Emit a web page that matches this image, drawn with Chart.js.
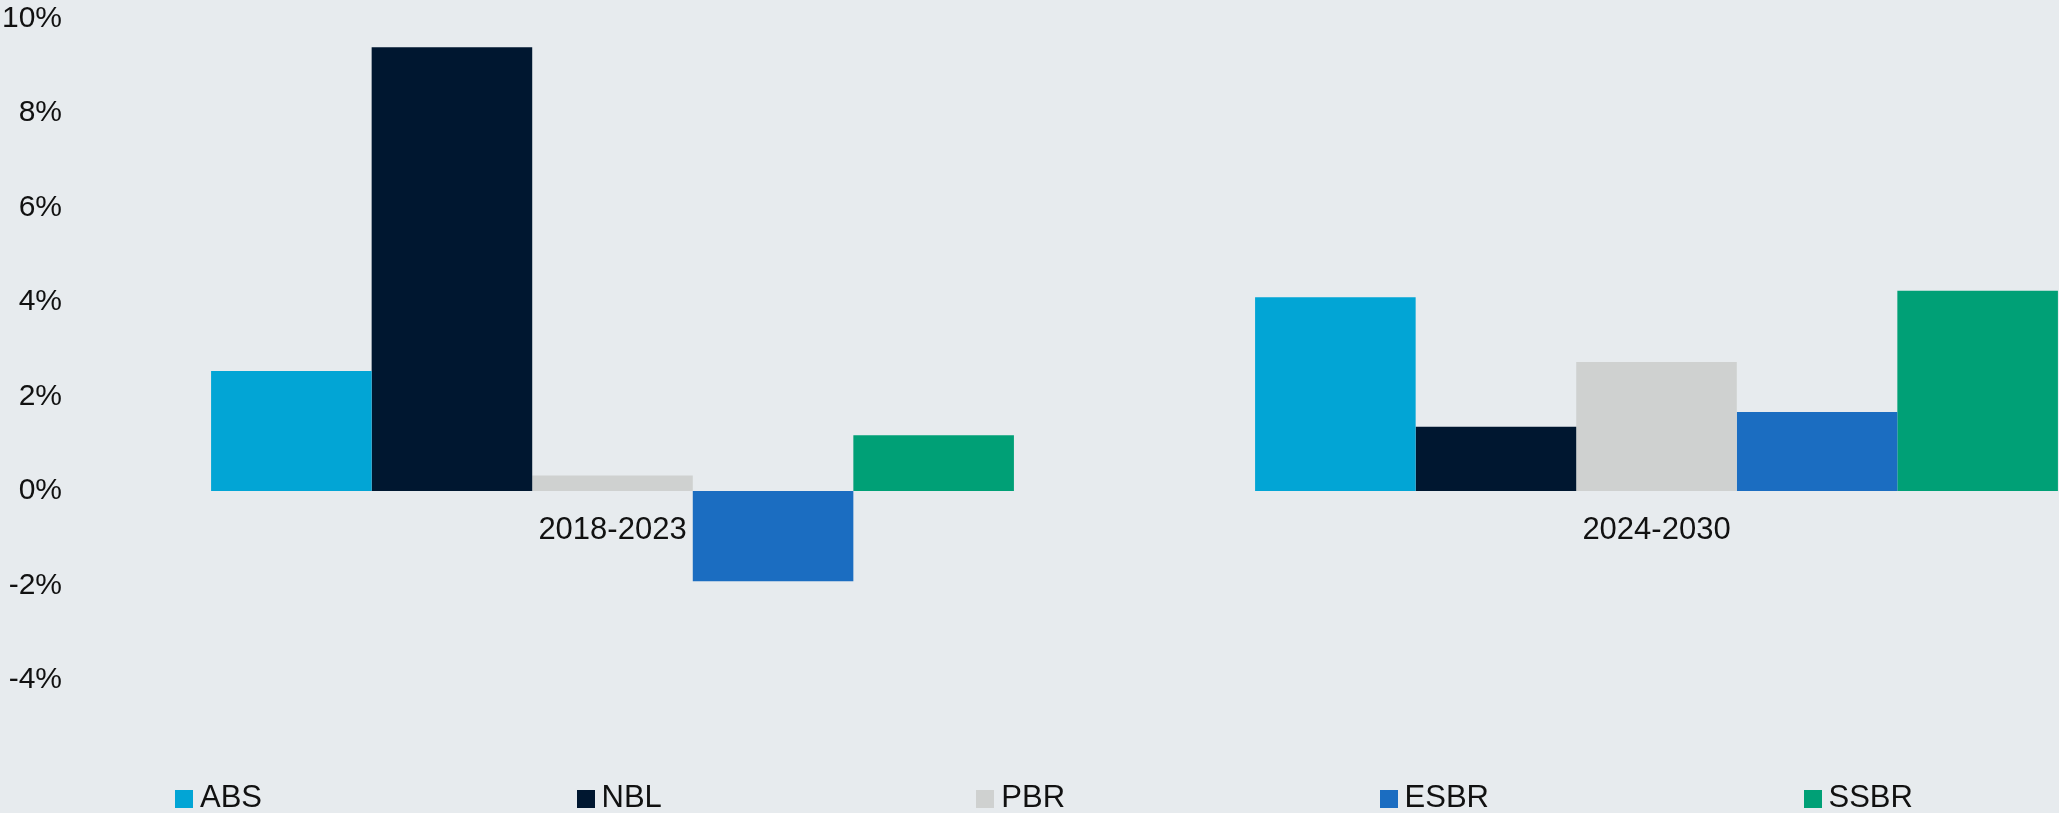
<!DOCTYPE html>
<html>
<head>
<meta charset="utf-8">
<script src="https://cdn.jsdelivr.net/npm/chart.js@4/dist/chart.umd.min.js"></script>
<style>
  html, body { margin: 0; padding: 0; background: #E7EBEE; overflow: hidden; width: 2059px; height: 813px; }
  #wrap { position: relative; width: 2059px; height: 813px; overflow: hidden; }
  canvas { position: absolute; left: 0; top: 0; }
  #legend { position: absolute; left: 175px; top: 779px; height: 36px; display: flex; align-items: center; gap: 314.5px;
            font-family: "Liberation Sans", Arial, sans-serif; font-size: 31px; color: #111; white-space: nowrap; }
  .item { display: flex; align-items: center; }
  .box { width: 18px; height: 18px; margin-right: 7px; margin-top: 3px; }
</style>
</head>
<body>
<div id="wrap">
  <canvas id="c" width="2200" height="813"></canvas>
  <div id="legend"></div>
</div>
<script>
const categories = ['2018-2023', '2024-2030'];
const seriesNames = ['ABS', 'NBL', 'PBR', 'ESBR', 'SSBR'];
const absValues  = [2.54, 4.10];
const nblValues  = [9.39, 1.36];
const pbrValues  = [0.33, 2.73];
const esbrValues = [-1.91, 1.67];
const ssbrValues = [1.18, 4.24];
const yTickValues = [-4, -2, 0, 2, 4, 6, 8, 10];
const colors = ['#02A5D5', '#001730', '#CFD1D0', '#1B6DC1', '#00A076'];

const allValues = [absValues, nblValues, pbrValues, esbrValues, ssbrValues];
const datasets = seriesNames.map((name, i) => ({
  label: name,
  data: allValues[i],
  backgroundColor: colors[i],
  borderWidth: 0,
  categoryPercentage: 0.769,
  barPercentage: 1.0
}));

const font = { family: '"Liberation Sans", Arial, sans-serif', size: 31 };

const chart = new Chart(document.getElementById('c'), {
  type: 'bar',
  data: { labels: categories, datasets },
  options: {
    responsive: false,
    animation: false,
    devicePixelRatio: 1,
    layout: { padding: { top: 18.5, bottom: 38.5, left: 0, right: 21.5 } },
    plugins: { legend: { display: false }, tooltip: { enabled: false } },
    scales: {
      x: {
        position: { y: 0 },
        grid: { display: false, drawTicks: false },
        border: { display: false },
        ticks: { color: '#111', font, padding: 20.5, maxRotation: 0 }
      },
      y: {
        min: -6, max: 10,
        grid: { display: false, drawTicks: false },
        border: { display: false },
        afterFit: (axis) => { axis.width = 90.5; axis.paddingTop = 0; axis.paddingBottom = 0; },
        afterBuildTicks: (axis) => { axis.ticks = yTickValues.map(v => ({ value: v })); },
        ticks: {
          color: '#111', font: { family: font.family, size: 30 }, padding: 28.5,
          callback: (v) => v + '%'
        }
      }
    }
  }
});

const legend = document.getElementById('legend');
chart.data.datasets.forEach(ds => {
  const item = document.createElement('div');
  item.className = 'item';
  const box = document.createElement('span');
  box.className = 'box';
  box.style.background = ds.backgroundColor;
  const txt = document.createElement('span');
  txt.textContent = ds.label;
  item.appendChild(box);
  item.appendChild(txt);
  legend.appendChild(item);
});
</script>
</body>
</html>
